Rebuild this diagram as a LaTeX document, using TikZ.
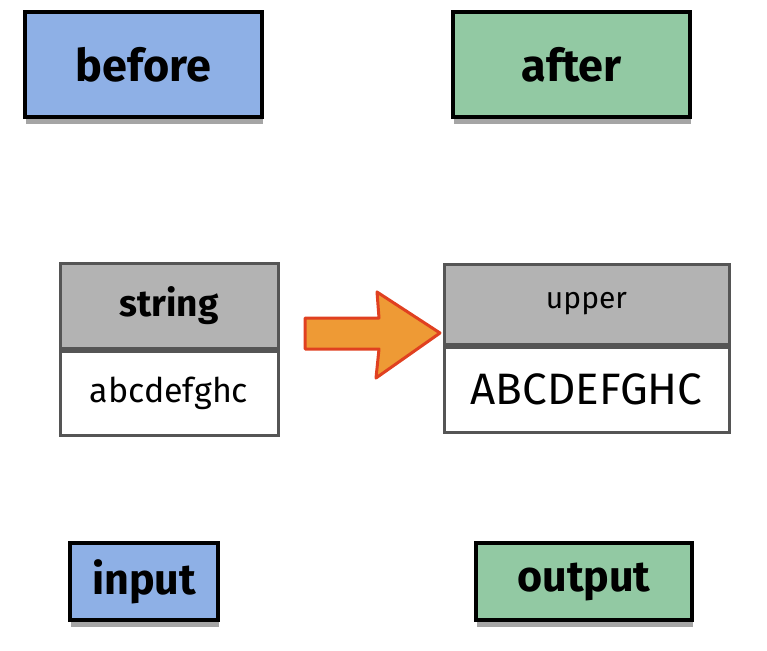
\documentclass[tikz,border=0pt]{standalone}
\usepackage{fontspec}
\setmainfont{Fira Sans}
\usetikzlibrary{positioning, shadows}
\definecolor{beforeblue}{HTML}{8EB0E6}
\definecolor{aftergreen}{HTML}{92C9A3}
\definecolor{headgray}{HTML}{B3B3B3}
\definecolor{framegray}{HTML}{555555}
\definecolor{arrowred}{HTML}{E04020}
\definecolor{arroworange}{HTML}{EE9A35}

\begin{document}
\begin{tikzpicture}[x=1pt, y=-1pt,
	tag/.style={draw=black, line width=3.5pt, inner sep=0pt,
		font=\fontsize{45}{47}\selectfont\bfseries,
		drop shadow={shadow xshift=1pt, shadow yshift=-7pt, opacity=0.5, fill=black!70}},
	cellhead/.style={draw=framegray, line width=3pt, fill=headgray, inner sep=0pt},
	cellbody/.style={draw=framegray, line width=3pt, fill=white, inner sep=0pt},
	fatarrow/.style={draw=arrowred, line width=3pt, fill=arroworange, line join=round}]
	\useasboundingbox (0,0) rectangle (767,650);

	% labels on top
	\node[tag, fill=beforeblue, minimum width=237pt, minimum height=105pt] (before) at (143.5,64.5) {before};
	\node[tag, fill=aftergreen, minimum width=237pt, minimum height=105pt] (after) at (571.5,64.5) {after};

	% the two tables
	\node[cellhead, minimum width=218pt, minimum height=85pt, font=\fontsize{37}{39}\selectfont\bfseries] (strhead) at (169,305.5) {string};
	\node[cellbody, minimum width=218pt, minimum height=84pt, font=\fontsize{34}{36}\selectfont, below=0pt of strhead] (strbody) {abcdefghc};

	\node[cellhead, minimum width=285pt, minimum height=80pt, font=\fontsize{30}{32}\selectfont] (uphead) at (586.5,304) {upper};
	\node[cellbody, minimum width=285pt, minimum height=85pt, font=\fontsize{44}{46}\selectfont, below=0pt of uphead] (upbody) {ABCDEFGHC};

	% arrow between them
	\draw[fatarrow] (305,318) -- (379,318) -- (377,292) -- (440,333) -- (376,378) -- (379,349) -- (305,349) -- cycle;

	% labels at the bottom
	\node[tag, fill=beforeblue, minimum width=148pt, minimum height=77pt, font=\fontsize{43}{45}\selectfont\bfseries] (input) at (144,581.5) {input};
	\node[tag, fill=aftergreen, minimum width=216pt, minimum height=77pt, font=\fontsize{43}{45}\selectfont\bfseries] (output) at (584,581.5) {output};
\end{tikzpicture}
\end{document}
